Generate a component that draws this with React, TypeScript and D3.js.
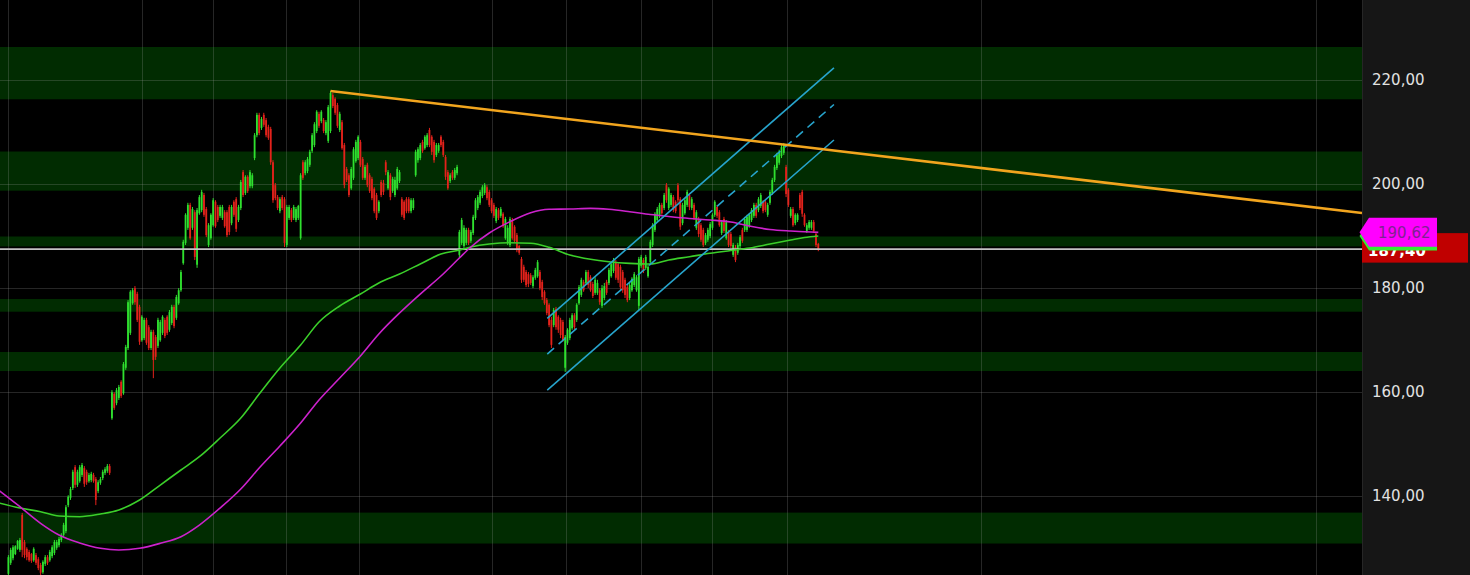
import React from 'react';
import * as d3 from 'd3';

const W = 1470;
const H = 575;
const PLOT_R = 1362;

// ---- OHLC bars (price) ----
const opens = [
  125.0, 127.1, 128.0, 128.8, 129.8, 129.6, 136.3, 131.1, 129.8, 129.2,
  128.8, 127.6, 128.6, 127.8, 126.7, 125.3, 126.9, 128.2, 127.6, 128.4,
  129.0, 130.0, 130.5, 131.5, 132.5, 133.2, 138.2, 139.6, 141.5, 145.5,
  142.1, 142.8, 144.0, 145.3, 144.6, 142.8, 143.0, 144.0, 143.2, 140.9,
  142.5, 143.4, 144.4, 144.8, 145.7, 154.9, 159.6, 157.8, 158.8, 161.9,
  159.7, 164.6, 168.4, 171.3, 177.0, 179.9, 178.8, 176.3, 169.9, 170.3,
  173.8, 172.4, 168.4, 171.5, 170.5, 168.8, 169.9, 171.3, 173.8, 174.4,
  171.9, 173.2, 176.3, 174.2, 177.0, 179.5, 184.7, 188.6, 191.5, 195.9,
  191.5, 194.5, 184.4, 194.3, 194.9, 197.8, 195.1, 188.2, 189.5, 192.0,
  196.5, 195.5, 193.8, 193.4, 194.5, 194.5, 195.5, 192.4, 196.5, 197.0,
  193.0, 195.3, 202.2, 198.2, 201.3, 199.5, 199.5, 204.9, 209.3, 213.2,
  210.7, 213.2, 212.2, 210.9, 210.5, 204.1, 199.7, 197.4, 194.7, 197.4,
  197.0, 188.2, 193.4, 194.9, 193.4, 193.0, 193.4, 189.5, 204.1, 202.0,
  202.4, 203.6, 206.3, 207.4, 210.1, 213.4, 212.0, 212.2, 209.7, 208.2,
  210.1, 217.0, 216.3, 215.1, 210.3, 211.8, 207.4, 202.8, 201.6, 199.1,
  201.1, 204.3, 204.9, 208.0, 204.7, 201.1, 203.6, 201.6, 200.9, 199.0,
  197.8, 194.7, 200.3, 200.1, 204.1, 199.1, 201.6, 198.6, 197.8, 199.1,
  200.5, 197.0, 196.5, 197.0, 197.0, 194.7, 195.3, 201.6, 204.5, 204.9,
  208.0, 206.8, 207.4, 210.3, 209.0, 208.0, 205.5, 206.3, 209.0, 208.0,
  205.1, 202.2, 200.5, 202.2, 201.1, 202.0, 186.3, 188.6, 188.0, 188.6,
  191.1, 189.0, 190.5, 193.4, 195.3, 196.3, 197.6, 198.2, 199.3, 198.4,
  196.8, 195.9, 192.8, 194.9, 193.8, 194.2, 189.5, 188.6, 188.2, 193.0,
  191.7, 190.1, 188.0, 185.5, 184.0, 183.0, 182.6, 182.4, 180.3, 181.9,
  182.2, 183.0, 181.1, 179.2, 177.6, 176.7, 173.8, 172.8, 175.9, 174.4,
  173.8, 173.4, 164.6, 169.4, 170.3, 172.2, 174.7, 173.8, 177.0, 178.6,
  181.1, 180.9, 183.0, 182.0, 180.7, 179.0, 179.0, 179.5, 176.5, 178.0,
  181.1, 180.9, 182.2, 183.2, 184.9, 184.5, 184.0, 183.0, 181.5, 180.1,
  178.0, 179.5, 180.5, 179.5, 176.5, 184.2, 185.3, 183.8, 182.2, 184.9,
  188.2, 191.1, 193.0, 193.8, 195.9, 195.3, 199.7, 195.3, 195.9, 197.4,
  196.5, 199.7, 197.0, 192.4, 194.3, 195.9, 197.8, 195.3, 195.9, 191.5,
  193.2, 192.0, 191.1, 188.6, 189.2, 189.9, 191.5, 194.0, 195.5, 194.5,
  190.5, 193.2, 189.5, 190.7, 190.3, 186.3, 187.8, 186.7, 188.0, 191.1,
  191.1, 191.1, 191.8, 193.0, 193.8, 195.9, 194.9, 195.7, 196.5, 196.5,
  194.0, 196.3, 198.2, 200.7, 203.0, 204.0, 205.3, 205.9, 203.2, 198.8,
  193.8, 195.1, 192.4, 193.0, 197.8, 198.4, 194.0, 190.9, 191.5, 191.5,
  192.6, 190.3, 188.4,
];

const highs = [
  128.6, 130.0, 130.5, 130.5, 131.5, 131.9, 136.7, 131.5, 130.1, 129.6,
  129.0, 130.1, 129.0, 128.2, 127.1, 127.6, 128.6, 128.6, 129.6, 130.5,
  131.5, 131.5, 132.1, 132.8, 134.8, 138.2, 140.1, 141.7, 145.0, 145.9,
  145.0, 145.9, 146.3, 145.7, 145.0, 144.4, 144.6, 144.4, 143.6, 143.0,
  143.6, 145.0, 145.5, 146.1, 146.1, 160.3, 159.9, 160.7, 161.3, 162.2,
  165.7, 169.0, 177.6, 179.5, 179.9, 180.3, 179.2, 176.7, 174.7, 174.2,
  174.2, 172.8, 171.9, 171.9, 170.9, 174.2, 173.8, 174.7, 174.2, 174.7,
  175.7, 176.7, 176.7, 178.6, 179.9, 183.4, 189.2, 194.3, 196.3, 196.3,
  195.5, 194.9, 195.3, 197.8, 198.8, 198.2, 195.5, 192.4, 194.3, 197.2,
  196.8, 195.9, 195.9, 195.9, 194.9, 194.9, 195.9, 195.9, 196.8, 197.4,
  195.9, 200.7, 202.6, 201.6, 201.6, 202.6, 202.0, 209.7, 213.6, 213.6,
  212.8, 213.6, 212.6, 211.3, 210.9, 204.5, 200.1, 197.8, 197.4, 197.8,
  197.4, 195.9, 195.9, 195.3, 195.9, 195.5, 195.9, 202.0, 204.5, 204.5,
  205.1, 206.5, 209.7, 211.8, 214.1, 213.8, 214.1, 212.6, 212.2, 215.1,
  217.8, 217.4, 216.6, 215.5, 213.8, 212.2, 207.8, 203.2, 202.0, 203.2,
  207.0, 208.4, 209.3, 208.4, 205.1, 203.6, 204.0, 202.0, 201.3, 199.3,
  198.2, 196.8, 200.7, 200.7, 204.5, 202.6, 202.0, 201.3, 201.3, 203.2,
  202.6, 197.4, 196.8, 197.4, 197.4, 197.2, 197.2, 206.5, 207.0, 207.8,
  208.4, 209.3, 209.7, 210.7, 209.3, 208.4, 207.8, 207.8, 209.3, 208.4,
  205.5, 202.6, 202.0, 202.6, 203.0, 203.6, 191.1, 193.4, 192.0, 191.5,
  191.5, 191.1, 194.0, 197.2, 197.8, 198.8, 199.7, 200.1, 199.7, 198.8,
  197.2, 196.3, 195.5, 195.3, 195.5, 194.5, 193.6, 192.0, 193.6, 193.4,
  192.0, 190.5, 188.2, 185.9, 184.4, 183.4, 183.0, 182.8, 182.4, 183.8,
  185.3, 183.4, 181.5, 179.5, 178.0, 177.0, 174.4, 176.1, 176.3, 174.7,
  174.2, 173.8, 170.9, 172.2, 174.2, 175.1, 175.1, 177.0, 180.5, 181.9,
  181.5, 183.4, 183.4, 182.4, 181.1, 182.0, 181.5, 179.9, 180.5, 180.9,
  181.5, 183.8, 184.9, 185.7, 185.3, 184.9, 184.4, 183.4, 181.9, 180.5,
  180.9, 182.0, 183.0, 182.4, 185.9, 186.3, 185.7, 186.3, 184.4, 189.2,
  192.4, 194.5, 195.5, 196.3, 196.3, 198.2, 200.1, 199.3, 198.2, 197.8,
  196.8, 200.1, 197.4, 196.3, 197.2, 198.8, 198.2, 197.4, 196.3, 194.9,
  193.6, 192.4, 191.5, 190.5, 191.5, 192.6, 194.3, 196.8, 195.9, 194.9,
  193.0, 193.6, 193.0, 191.1, 190.7, 188.6, 188.2, 188.6, 190.1, 191.5,
  193.6, 194.0, 194.3, 195.3, 196.3, 196.3, 197.4, 198.2, 196.8, 196.8,
  196.3, 198.8, 201.1, 203.6, 205.9, 206.5, 207.4, 207.8, 203.6, 199.1,
  195.5, 195.5, 194.3, 194.3, 198.2, 198.8, 194.3, 192.4, 193.0, 193.0,
  193.0, 190.7, 188.6,
];

const lows = [
  124.5, 126.7, 127.6, 128.6, 129.6, 129.2, 128.2, 128.0, 127.6, 127.3,
  127.1, 127.3, 126.7, 125.7, 124.5, 125.0, 126.5, 126.7, 127.3, 128.0,
  128.6, 129.6, 130.1, 131.1, 132.1, 132.8, 137.8, 139.2, 141.1, 141.5,
  141.7, 142.5, 143.6, 141.7, 142.1, 142.5, 142.6, 142.5, 138.2, 140.5,
  142.1, 143.0, 144.0, 144.4, 144.0, 154.6, 156.5, 157.4, 158.4, 158.8,
  159.4, 164.2, 168.0, 170.9, 176.7, 176.7, 173.4, 169.0, 169.6, 169.9,
  169.0, 168.0, 168.0, 162.6, 166.1, 168.4, 169.6, 170.9, 170.3, 170.9,
  171.5, 172.8, 172.2, 173.8, 176.7, 179.2, 184.4, 188.2, 191.1, 189.2,
  191.1, 185.3, 183.8, 194.0, 194.5, 193.6, 189.7, 187.8, 189.2, 191.7,
  191.5, 192.6, 193.4, 193.0, 191.5, 189.7, 190.1, 192.0, 193.6, 190.7,
  192.6, 194.9, 197.4, 197.8, 198.2, 199.1, 199.1, 204.5, 208.9, 209.3,
  210.3, 210.9, 208.9, 208.4, 203.6, 196.3, 196.8, 194.9, 194.3, 194.9,
  187.8, 187.8, 193.0, 192.6, 193.0, 192.6, 193.0, 189.2, 200.7, 201.6,
  202.0, 203.2, 205.9, 207.0, 209.7, 210.7, 211.6, 209.7, 209.3, 207.8,
  209.7, 214.5, 213.2, 210.7, 209.9, 206.5, 199.1, 200.3, 197.4, 198.8,
  200.7, 204.0, 204.5, 203.2, 200.7, 200.7, 199.3, 198.2, 196.8, 194.3,
  193.0, 194.3, 197.4, 197.8, 201.6, 198.8, 196.8, 198.2, 197.4, 198.8,
  200.1, 193.6, 193.0, 194.3, 194.3, 194.3, 194.9, 201.3, 204.0, 204.5,
  205.9, 206.5, 207.0, 207.0, 205.5, 204.0, 205.1, 205.9, 207.0, 205.1,
  200.7, 198.8, 200.1, 200.7, 200.7, 201.6, 185.7, 188.2, 187.6, 188.2,
  188.2, 188.6, 190.1, 193.0, 194.9, 195.9, 197.2, 197.8, 196.8, 195.5,
  194.3, 193.4, 192.4, 193.0, 193.4, 191.5, 189.2, 188.2, 187.8, 189.2,
  188.6, 186.8, 186.3, 180.9, 181.1, 180.1, 180.1, 180.5, 179.9, 181.5,
  181.9, 179.5, 177.6, 176.7, 174.7, 172.4, 168.4, 172.4, 171.9, 171.3,
  170.3, 169.6, 163.8, 169.0, 169.9, 171.9, 171.9, 173.4, 176.7, 178.2,
  179.2, 180.5, 179.9, 179.2, 178.0, 178.6, 178.6, 176.7, 176.1, 177.6,
  178.6, 180.5, 181.9, 182.8, 181.5, 180.9, 179.5, 179.0, 178.0, 177.2,
  177.6, 179.2, 180.1, 179.2, 175.7, 183.8, 182.8, 183.4, 181.9, 184.4,
  187.8, 190.7, 192.6, 193.4, 194.0, 194.9, 196.3, 194.9, 195.5, 194.5,
  194.3, 196.3, 191.1, 192.0, 194.0, 195.5, 194.9, 194.9, 193.0, 191.1,
  189.7, 188.8, 187.8, 188.2, 188.8, 189.5, 191.1, 193.6, 193.4, 191.7,
  190.1, 190.5, 189.2, 187.8, 187.6, 185.9, 184.9, 186.3, 187.6, 188.6,
  190.7, 190.7, 191.5, 192.6, 193.4, 193.4, 194.5, 195.3, 194.3, 194.5,
  193.6, 195.9, 197.8, 200.3, 202.6, 203.6, 204.9, 205.5, 197.4, 195.5,
  193.4, 191.7, 192.0, 192.6, 194.9, 193.6, 191.7, 190.5, 191.1, 191.1,
  190.5, 187.8, 187.0,
];

const closes = [
  128.2, 129.6, 130.1, 130.3, 131.3, 131.5, 129.6, 128.6, 128.2, 127.6,
  127.5, 129.8, 127.1, 126.1, 125.2, 127.3, 128.2, 127.1, 129.2, 130.1,
  131.1, 131.1, 131.7, 132.5, 134.4, 137.8, 139.8, 141.3, 144.6, 142.1,
  144.6, 145.5, 145.9, 142.3, 142.6, 144.0, 144.2, 142.8, 139.2, 142.6,
  143.2, 144.6, 145.1, 145.7, 144.4, 159.9, 156.9, 160.3, 160.9, 159.2,
  165.3, 168.6, 177.2, 179.2, 179.5, 177.2, 173.8, 169.6, 174.4, 173.8,
  169.4, 168.4, 171.5, 166.1, 166.7, 173.8, 173.4, 174.4, 170.7, 171.3,
  175.3, 176.3, 172.6, 178.2, 179.5, 183.0, 188.8, 194.0, 195.9, 189.5,
  195.1, 185.9, 194.9, 197.4, 198.4, 194.0, 190.1, 192.0, 194.0, 196.8,
  191.8, 193.0, 195.5, 195.5, 191.8, 190.1, 190.7, 195.5, 194.0, 191.3,
  195.5, 200.3, 197.8, 201.3, 198.6, 202.2, 201.6, 209.3, 213.2, 209.7,
  212.4, 211.3, 209.3, 208.8, 204.1, 196.8, 197.2, 195.3, 197.0, 195.3,
  188.6, 195.5, 195.5, 193.0, 195.5, 195.1, 195.7, 201.6, 201.1, 204.1,
  204.7, 206.1, 209.3, 211.4, 213.8, 211.1, 213.8, 210.1, 211.8, 214.7,
  217.4, 214.9, 213.6, 211.1, 213.4, 206.8, 199.7, 200.7, 197.8, 202.8,
  206.6, 208.0, 209.0, 203.6, 201.1, 203.2, 199.7, 198.6, 197.2, 194.7,
  193.4, 196.5, 197.8, 198.4, 202.2, 202.2, 197.4, 200.9, 200.7, 202.8,
  202.2, 194.0, 193.4, 194.7, 194.7, 196.8, 196.8, 206.1, 206.6, 207.4,
  206.3, 209.0, 209.3, 207.4, 206.1, 204.5, 207.4, 207.4, 207.4, 205.5,
  201.3, 199.1, 201.6, 201.1, 202.6, 203.2, 190.7, 193.0, 191.5, 191.1,
  188.6, 190.7, 193.6, 196.8, 197.4, 198.4, 199.3, 199.7, 197.2, 195.9,
  194.7, 193.8, 195.1, 193.4, 195.1, 191.8, 193.2, 191.5, 193.2, 189.5,
  189.0, 187.2, 186.7, 181.5, 181.5, 180.5, 180.7, 180.9, 182.0, 183.4,
  184.9, 179.9, 178.2, 177.0, 175.1, 172.8, 169.0, 175.7, 172.4, 171.9,
  170.9, 169.9, 170.5, 171.9, 173.8, 174.7, 172.4, 176.7, 180.1, 181.5,
  179.5, 183.0, 180.5, 179.5, 178.4, 181.5, 180.9, 177.2, 179.9, 180.3,
  179.0, 183.4, 184.5, 185.3, 181.9, 181.5, 180.1, 179.5, 178.6, 177.6,
  180.5, 181.7, 182.6, 182.0, 185.5, 185.9, 183.2, 185.9, 184.0, 188.8,
  192.0, 194.2, 195.1, 195.9, 194.3, 197.8, 196.8, 199.0, 197.8, 194.9,
  194.7, 196.8, 191.7, 195.9, 196.8, 198.4, 195.5, 197.0, 193.4, 194.5,
  190.3, 189.2, 188.2, 190.1, 191.1, 192.2, 194.0, 196.5, 193.8, 192.0,
  192.6, 190.9, 192.6, 188.2, 188.0, 188.2, 185.3, 188.2, 189.7, 189.0,
  193.2, 193.6, 194.0, 194.9, 195.9, 193.8, 197.0, 197.8, 194.7, 194.9,
  195.9, 198.4, 200.7, 203.2, 205.5, 206.1, 207.0, 207.4, 198.0, 195.9,
  195.1, 192.0, 194.0, 194.0, 195.3, 194.2, 192.0, 192.0, 192.6, 192.6,
  190.9, 188.2, 187.4,
];

// ---- moving averages (sampled at bar index) ----
const maIdx = [
  -4, 5, 14, 22, 31, 40, 48, 57, 66, 75, 83, 92, 101, 109, 118, 127, 135, 144, 153, 161,
  170, 179, 188, 196, 201, 209, 218, 227, 235, 244, 253, 261, 270, 279, 287, 296, 305, 314, 322, 331,
  340, 346, 352,
];
const maMagenta = [
  140.97, 137.89, 134.7, 132.45, 130.92, 129.9, 129.57, 129.9, 130.86, 132.13,
  134.37, 137.64, 141.3, 145.33, 149.56, 153.98, 158.4, 162.63, 166.86, 171.09,
  175.12, 178.77, 182.23, 185.69, 187.81, 190.5, 192.67, 194.4, 195.05, 195.11,
  195.24, 195.05, 194.59, 194.05, 193.67, 193.29, 193.0, 192.61, 191.84, 191.17,
  190.88, 190.75, 190.62,
];
const maGreen = [
  138.6, 137.64, 136.93, 136.1, 135.97, 136.49, 137.26, 139.18, 142.06, 144.95,
  147.5, 151.1, 154.94, 159.55, 164.55, 168.97, 173.39, 176.47, 178.77, 180.89,
  182.62, 184.54, 186.46, 187.23, 187.81, 188.38, 188.63, 188.52, 187.75, 186.27,
  185.44, 184.98, 184.67, 184.54, 185.31, 185.94, 186.6, 187.13, 187.61, 188.38,
  189.15, 189.63, 189.92,
];

// ---- support / resistance zones (price) ----
const zoneLow = [216.2, 198.63, 187.92, 175.37, 163.97, 130.82];
const zoneHigh = [226.25, 206.16, 189.83, 177.81, 167.63, 136.76];

// ---- axis ticks & time grid (bar index) ----
const yTicks = [140, 160, 180, 200, 220];
const gridBars = [0, 58, 89, 120.5, 152.5, 210, 242.5, 275, 306, 338.5, 422.5, 568.5];

// ---- drawings ----
const trendIdx = [140, 588];
const trendPrice = [217.8, 194.35];
const chanIdx = [234.2, 358.8];
const chanUpper = [174.1, 222.25];
const chanMid = [167.24, 215.2];
const chanLower = [160.32, 208.37];

const lastPrice = 187.4;
const magentaLast = 190.62;
const greenLast = 189.92;

const fmt = (v: number) => d3.format('.2f')(v).replace('.', ',');

export default function App() {
  const n = Math.min(opens.length, highs.length, lows.length, closes.length);
  const x = d3.scaleLinear().domain([0, 352]).range([8.4, 818.3]);
  const y = d3.scaleLinear().domain([124.77, 235.28]).range([H, 0]);

  const maLine = (vals: number[]) =>
    d3
      .line<number>()
      .x((_, i) => x(maIdx[i]))
      .y((v) => y(v))
      .curve(d3.curveMonotoneX)(vals) || '';

  const seg = (xs: number[], ps: number[]) => ({
    x1: x(xs[0]),
    y1: y(ps[0]),
    x2: x(xs[1]),
    y2: y(ps[1]),
  });

  const tSlope = (trendPrice[1] - trendPrice[0]) / (trendIdx[1] - trendIdx[0]);
  const tEndIdx = x.invert(PLOT_R);
  const tEndP = trendPrice[0] + tSlope * (tEndIdx - trendIdx[0]);

  const cyan = '#27a4cc';
  const up = '#2fe02f';
  const down = '#e3221b';

  const ym = y(magentaLast);
  const yg = y(greenLast);
  const yl = y(lastPrice);
  const tag = (cy: number) =>
    `${1359.5},${cy} ${1369},${cy - 14.5} ${1437},${cy - 14.5} ${1437},${cy + 14.5} ${1369},${cy + 14.5}`;

  return (
    <svg
      width={W}
      height={H}
      style={{ position: 'fixed', left: 0, top: 0, background: '#000', display: 'block' }}
      fontFamily="'DejaVu Sans', sans-serif"
    >
      <defs>
        <clipPath id="plot">
          <rect x={0} y={0} width={PLOT_R} height={H} />
        </clipPath>
        <clipPath id="redtxt">
          <rect x={PLOT_R} y={ym + 14.5} width={W - PLOT_R} height={H} />
        </clipPath>
      </defs>
      <rect x={0} y={0} width={W} height={H} fill="#000" />

      <g clipPath="url(#plot)">
        {zoneLow.map((lo, i) => (
          <rect
            key={'z' + i}
            x={0}
            width={PLOT_R}
            y={y(zoneHigh[i])}
            height={y(lo) - y(zoneHigh[i])}
            fill="#012c01"
          />
        ))}
        {yTicks.map((t) => (
          <line key={'gy' + t} x1={0} x2={PLOT_R} y1={Math.round(y(t)) + 0.5} y2={Math.round(y(t)) + 0.5} stroke="rgba(150,150,150,0.25)" strokeWidth={1} />
        ))}
        {gridBars.map((b) => (
          <line key={'gx' + b} x1={Math.round(x(b)) + 0.5} x2={Math.round(x(b)) + 0.5} y1={0} y2={H} stroke="rgba(150,150,150,0.25)" strokeWidth={1} />
        ))}

        {d3.range(n).map((i) => {
          const o = opens[i];
          const c = closes[i];
          const col = c >= o ? up : down;
          const cx = x(i);
          const top = y(Math.max(o, c));
          const bot = y(Math.min(o, c));
          return (
            <g key={'b' + i}>
              <line x1={cx} x2={cx} y1={y(highs[i])} y2={y(lows[i])} stroke={col} strokeWidth={1} />
              <rect x={cx - 0.9} y={top} width={1.8} height={Math.max(1, bot - top)} fill={col} />
            </g>
          );
        })}

        <line x1={0} x2={PLOT_R} y1={yl} y2={yl} stroke="#c4c4c4" strokeWidth={1.6} />

        <path d={maLine(maGreen)} fill="none" stroke="#3bcf2a" strokeWidth={1.6} />
        <path d={maLine(maMagenta)} fill="none" stroke="#cc22cc" strokeWidth={1.6} />

        <line {...seg(chanIdx, chanUpper)} stroke={cyan} strokeWidth={1.6} />
        <line {...seg(chanIdx, chanMid)} stroke={cyan} strokeWidth={1.6} strokeDasharray="9 6" />
        <line {...seg(chanIdx, chanLower)} stroke={cyan} strokeWidth={1.6} />

        <line
          x1={x(trendIdx[0])}
          y1={y(trendPrice[0])}
          x2={PLOT_R}
          y2={y(tEndP)}
          stroke="#f2a51e"
          strokeWidth={2.6}
        />
      </g>

      {/* price axis */}
      <rect x={PLOT_R} y={0} width={W - PLOT_R} height={H} fill="#161616" />
      <line x1={PLOT_R + 0.5} x2={PLOT_R + 0.5} y1={0} y2={H} stroke="#262626" />
      {yTicks.map((t) => (
        <text key={'t' + t} x={1372} y={y(t) + 5.5} fill="#e2e2e2" fontSize={15}>
          {fmt(t)}
        </text>
      ))}

      <rect x={PLOT_R} y={yl - 16} width={106} height={29.5} fill="#c00000" />
      <g clipPath="url(#redtxt)">
        <text x={1368} y={yl + 7} fill="#ffffff" fontSize={15} fontWeight="bold">
          {fmt(lastPrice)}
        </text>
      </g>

      <polygon points={tag(yg)} fill="#33ee33" />

      <polygon points={tag(ym)} fill="#ff00ff" />
      <text x={1378} y={ym + 5.5} fill="#7d2390" fontSize={15}>
        {fmt(magentaLast)}
      </text>
    </svg>
  );
}
